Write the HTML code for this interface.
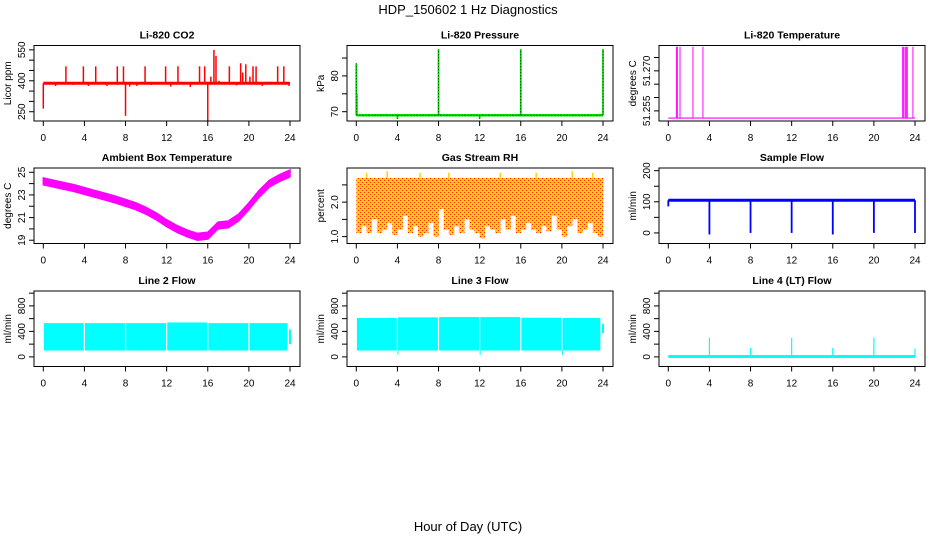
<!DOCTYPE html>
<html><head><meta charset="utf-8"><style>
body{margin:0;background:#fff}
svg{display:block;font-family:"Liberation Sans",sans-serif}
</style></head><body>
<svg id="c" width="936" height="540" viewBox="0 0 936 540" xmlns="http://www.w3.org/2000/svg">
<defs>
<pattern id="rhpat" width="4" height="4" patternUnits="userSpaceOnUse">
<rect width="4" height="4" fill="#ffd000"/><rect x="0" y="0" width="1" height="1" fill="#ff2000"/><rect x="2" y="2" width="1" height="1" fill="#ff2000"/>
</pattern>
</defs>
<text x="468" y="14" text-anchor="middle" font-size="13">HDP_150602  1 Hz Diagnostics</text>
<text x="468" y="531" text-anchor="middle" font-size="13">Hour of Day (UTC)</text>
</svg>
<script>
const xTicks=[0,4,8,12,16,20,24];
// CO2
const co2Base=388;
const co2Spikes=[[0,265],[0.1,395],[1.2,375],[2.2,470],[2.9,380],[3.9,470],[4.4,375],[5.1,470],[6.2,375],[7.2,470],[7.8,470],[8,230],[8.4,372],[9.1,375],[9.9,470],[10.5,380],[11.9,470],[12.4,372],[13.1,470],[14.3,370],[15.2,470],[15.7,470],[16,205],[16.3,420],[16.6,550],[16.8,520],[17.1,400],[18.1,470],[18.8,378],[19.2,485],[19.4,440],[19.7,480],[20.1,420],[20.4,470],[20.7,470],[21.3,375],[22.1,395],[22.8,470],[23.4,470],[23.9,375]];
// Pressure
const presBase=69;
const presSpikes=[[0,83.5],[0.05,75],[4,68],[8,87.5],[12,68],[16,87.5],[24,87.5]];
// Li-820 temperature
const tempBase=51.2523;
const tempSpikes=[0.79,0.88,1.14,2.4,3.37,22.8,22.9,23.05,23.15,23.25,23.8];
const tempTop=51.279;
// Ambient box temperature (hourly)
const ambHours=[0,1,2,3,4,5,6,7,8,9,10,11,12,13,14,15,16,17,18,19,20,21,22,23,24];
const ambTemp=[24.2,24.0,23.8,23.6,23.35,23.1,22.85,22.6,22.3,22.0,21.6,21.1,20.5,20.0,19.6,19.3,19.4,20.3,20.4,21.0,22.0,23.1,24.0,24.5,24.9];
// Gas stream RH (lower envelope per half hour)
const rhTop=2.7;
const rhLow=[1.1,1.3,1.1,1.5,1.1,1.2,1.4,1.05,1.2,1.6,1.1,1.3,1.0,1.1,1.4,1.0,1.8,1.2,1.05,1.3,1.1,1.5,1.2,1.1,0.95,1.3,1.2,1.1,1.5,1.2,1.6,1.1,1.2,1.4,1.2,1.1,1.3,1.15,1.6,1.2,1.0,1.3,1.5,1.1,1.2,1.4,1.1,1.0,1.5];
const rhPeaks=[[1,2.85],[3,2.9],[6.2,2.85],[9,2.85],[14,2.85],[17.5,2.85],[21,2.9],[23,2.85]];
// Sample flow
const sfBase=105;
const sfDips=[[0,85],[4,-5],[8,0],[12,0],[16,-5],[20,0],[24,0]];
// Line 2 flow: segments [start,end,top]
const l2Segs=[[0,4,530],[4,8,530],[8,12,530],[12,16,540],[16,20,530],[20,23.8,530]];
const l2Low=100;
// Line 3 flow
const l3Segs=[[0,4,610],[4,8,620],[8,12,625],[12,16,625],[16,20,615],[20,23.8,610]];
const l3Low=100;
const l3Dips=[4,12,20];
// Line 4 flow
const l4Spikes=[[4,300],[8,140],[12,300],[16,140],[20,300],[24,130]];

const svg=document.getElementById('c');
const NS='http://www.w3.org/2000/svg';
function mk(tag,attrs,parent){const e=document.createElementNS(NS,tag);for(const k in attrs)e.setAttribute(k,attrs[k]);(parent||svg).appendChild(e);return e;}
const W=266,H=75.5;
function panel(name,L,T,ymin,ymax,yticks,ylabels,ylab,title){
  const g=mk('g',{});
  
  
  const x=v=>L+9.3+v*(246.7/24);
  const y=v=>T+H-(v-ymin)/(ymax-ymin)*H;
  const plot=mk('g',{},g);
  
  
  const t=mk('text',{x:L+W/2,y:T-7,'text-anchor':'middle','font-size':10.5,'font-weight':'bold'},g);
  t.textContent=title;
  
  
  const fr=mk('rect',{x:L,y:T,width:W,height:H,fill:'none',stroke:'#000','stroke-width':1},g);
  
  
  const xa=mk('g',{},g);
  
  
  mk('line',{x1:x(0),x2:x(24),y1:T+H,y2:T+H,stroke:'#000'},xa);
  xTicks.forEach(v=>{mk('line',{x1:x(v),x2:x(v),y1:T+H,y2:T+H+5,stroke:'#000'},xa);
    const l=mk('text',{x:x(v),y:T+H+20,'text-anchor':'middle','font-size':10},xa);l.textContent=v;
    
    });
  const ya=mk('g',{},g);
  
  
  mk('line',{x1:L,x2:L,y1:y(yticks[0]),y2:y(yticks[yticks.length-1]),stroke:'#000'},ya);
  yticks.forEach(v=>{mk('line',{x1:L,x2:L-5,y1:y(v),y2:y(v),stroke:'#000'},ya);});
  ylabels.forEach(v=>{const l=mk('text',{x:0,y:0,'text-anchor':'middle','font-size':10,transform:`translate(${L-9},${y(+v)}) rotate(-90)`},ya);l.textContent=v;
    
    });
  const yl=mk('text',{x:0,y:0,'text-anchor':'middle','font-size':10,transform:`translate(${L-23},${T+H/2}) rotate(-90)`},g);
  yl.textContent=ylab;
  
  
  return {x,y,p:plot};
}
function vline(P,h,v1,v2,col,w){return mk('line',{x1:P.x(h),x2:P.x(h),y1:P.y(v1),y2:P.y(v2),stroke:col,'stroke-width':w||1.2},P.p);}

const r1=45.5,r2=168,r3=291,c1=34,c2=347,c3=659;
// CO2
let P=panel('co2',c1,r1,205,571,[250,300,350,400,450,500,550],['250','400','550'],'Licor ppm','Li-820 CO2');
co2Spikes.forEach(s=>{vline(P,s[0],co2Base,s[1],'#ff0000',1.5);});
mk('line',{x1:P.x(0),x2:P.x(24),y1:P.y(co2Base),y2:P.y(co2Base),stroke:'#ff0000','stroke-width':3},P.p);
// Pressure
P=panel('pressure',c2,r1,67.4,88.5,[70,75,80,85],['70','80'],'kPa','Li-820 Pressure');
mk('line',{x1:P.x(0),x2:P.x(24),y1:P.y(presBase),y2:P.y(presBase),stroke:'#00dd00','stroke-width':2.5},P.p);
mk('line',{x1:P.x(0),x2:P.x(24),y1:P.y(presBase),y2:P.y(presBase),stroke:'#000','stroke-width':0.8,'stroke-dasharray':'1 2'},P.p);
presSpikes.forEach(s=>{vline(P,s[0],presBase,s[1],'#00dd00',1.8);
  mk('line',{x1:P.x(s[0]),x2:P.x(s[0]),y1:P.y(presBase),y2:P.y(s[1]),stroke:'#000','stroke-width':0.8,'stroke-dasharray':'1 2'},P.p);});
// Li-820 temp
P=panel('licor-temp',c3,r1,51.2512,51.2795,[51.255,51.26,51.265,51.27,51.275],['51.255','51.270'],'degrees C','Li-820 Temperature');
mk('line',{x1:P.x(0),x2:P.x(24),y1:P.y(tempBase),y2:P.y(tempBase),stroke:'#ff00ff','stroke-width':1.2},P.p);
tempSpikes.forEach(h=>{vline(P,h,tempBase,tempTop,'#ff00ff',1);});
// Ambient
P=panel('ambient-temp',c1,r2,18.71,25.38,[19,20,21,22,23,24,25],['19','21','23','25'],'degrees C','Ambient Box Temperature');
{let up=ambHours.map((h,i)=>`${P.x(h)},${P.y(ambTemp[i]+0.3)}`);let dn=ambHours.map((h,i)=>`${P.x(h)},${P.y(ambTemp[i]-0.3)}`).reverse();
 mk('polygon',{points:up.concat(dn).join(' '),fill:'#ff00ff',stroke:'#ff00ff','stroke-width':1.5},P.p);}
// RH
P=panel('rh',c2,r2,0.80,2.99,[1.0,1.5,2.0,2.5],['1.0','2.0'],'percent','Gas Stream RH');
rhLow.forEach((v,i)=>{const h0=i*0.5,h1=Math.min(24,h0+0.5);
  const r=mk('rect',{x:P.x(h0),y:P.y(rhTop),width:P.x(h1)-P.x(h0)+0.3,height:P.y(v)-P.y(rhTop),fill:'url(#rhpat)'},P.p);
  
  });
rhPeaks.forEach(s=>{vline(P,s[0],rhTop,s[1],'#ffd400',1.5);});
// Sample flow
P=panel('sample-flow',c3,r2,-34,208.6,[0,50,100,150,200],['0','100','200'],'ml/min','Sample Flow');
mk('line',{x1:P.x(0),x2:P.x(24),y1:P.y(sfBase),y2:P.y(sfBase),stroke:'#0000ff','stroke-width':3},P.p);
sfDips.forEach(s=>{vline(P,s[0],sfBase,s[1],'#0000ff',1.8);});
// Line 2
P=panel('line2-flow',c1,r3,-151,1034,[0,200,400,600,800,1000],['0','400','800'],'ml/min','Line 2 Flow');
l2Segs.forEach(s=>{const r=mk('rect',{x:P.x(s[0])+0.6,y:P.y(s[2]),width:P.x(s[1])-P.x(s[0])-1.2,height:P.y(l2Low)-P.y(s[2]),fill:'#00ffff'},P.p);
  
  });
vline(P,24,200,430,'#00ffff',2);
// Line 3
P=panel('line3-flow',c2,r3,-151,1034,[0,200,400,600,800,1000],['0','400','800'],'ml/min','Line 3 Flow');
l3Segs.forEach(s=>{const r=mk('rect',{x:P.x(s[0])+0.6,y:P.y(s[2]),width:P.x(s[1])-P.x(s[0])-1.2,height:P.y(l3Low)-P.y(s[2]),fill:'#00ffff'},P.p);
  
  });
l3Dips.forEach(h=>{vline(P,h+0.05,l3Low,30,'#00ffff',1);});
vline(P,24,370,520,'#00ffff',2);
// Line 4
P=panel('line4-flow',c3,r3,-151,1034,[0,200,400,600,800,1000],['0','400','800'],'ml/min','Line 4 (LT) Flow');
mk('line',{x1:P.x(0),x2:P.x(24),y1:P.y(5),y2:P.y(5),stroke:'#00ffff','stroke-width':3},P.p);
l4Spikes.forEach(s=>{vline(P,s[0],0,s[1],'#00ffff',1.2);});
</script>
</body></html>
